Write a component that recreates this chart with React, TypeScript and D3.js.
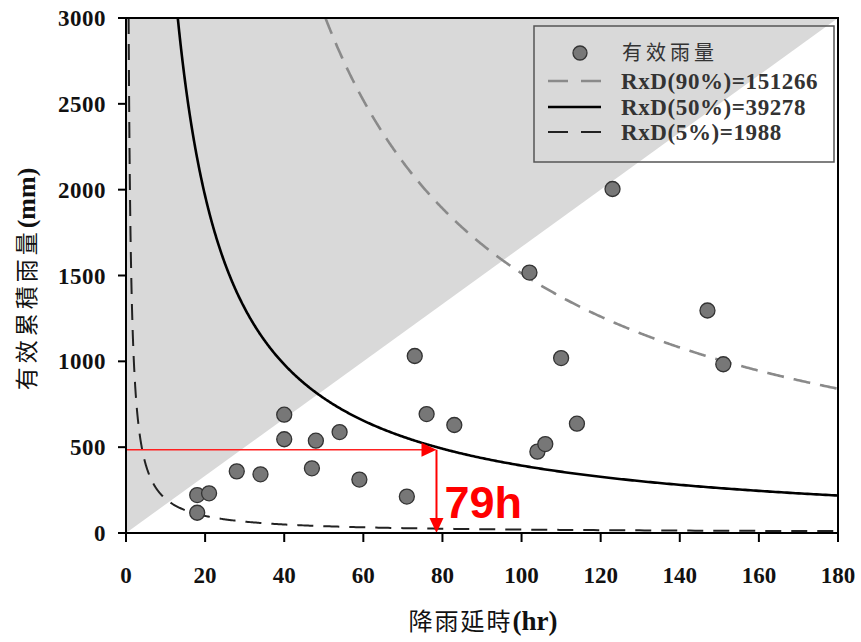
import React from "react";
import * as d3 from "d3";

const W = 861, H = 642;
const M = { left: 126, right: 23, top: 18, bottom: 109 };

// data
const durations = [18, 18, 21, 28, 34, 40, 40, 47, 48, 54, 59, 71, 73, 76, 83, 102, 104, 106, 110, 114, 123, 147, 151];
const rainfall = [118, 221, 231, 359, 342, 689, 546, 377, 538, 588, 311, 212, 1031, 693, 629, 1517, 474, 518, 1019, 637, 2004, 1296, 983];
const curveNames = ["RxD(90%)=151266", "RxD(50%)=39278", "RxD(5%)=1988"];
const curveConstants = [151266, 39278, 1988];
const xTicks = [0, 20, 40, 60, 80, 100, 120, 140, 160, 180];
const yTicks = [0, 500, 1000, 1500, 2000, 2500, 3000];
const annotD = 79;
const annotR = 485;
const annotLabel = "79h";
const legendTitle = "有效雨量";

const curveStyles = [
  { stroke: "#8a8a8a", width: 2.6, dash: "17,10" },
  { stroke: "#000", width: 2.6, dash: "" },
  { stroke: "#222", width: 2, dash: "16,10" },
];

export default function App() {
  const x = d3.scaleLinear().domain([0, 180]).range([M.left, W - M.right]);
  const y = d3.scaleLinear().domain([0, 3000]).range([H - M.bottom, M.top]);
  const x0 = x(0), x1 = x(180), y0 = y(0), y1 = y(3000);

  const curvePath = (c: number) => {
    const dMin = c / 3000;
    const pts: [number, number][] = [];
    const n = 600;
    for (let i = 0; i <= n; i++) {
      const t = i / n;
      const d = dMin * Math.pow(180 / dMin, t);
      pts.push([d, c / d]);
    }
    return d3.line<[number, number]>().x((p) => x(p[0])).y((p) => y(p[1]))(pts) || "";
  };

  const shade = `M${x0},${y0} L${x0},${y1} L${x1},${y1} Z`;
  const ax = x(annotD) - 2, ay = y(annotR);

  const serif = "'Liberation Serif', 'Times New Roman', serif";
  const cjk = "'Noto Sans CJK TC', 'Noto Sans CJK SC', sans-serif";

  const legX = 534, legY = 26, legW = 300, legH = 136;
  const rows = [53, 81, 107, 132];

  return (
    <svg width={W} height={H} style={{ position: "absolute", left: 0, top: 0, background: "#fff" }}>
      <defs>
        <clipPath id="plot">
          <rect x={x0} y={y1} width={x1 - x0} height={y0 - y1} />
        </clipPath>
      </defs>
      <path d={shade} fill="#d9d9d9" />
      <g clipPath="url(#plot)">
        {curveConstants.map((c, i) => (
          <path key={i} d={curvePath(c)} fill="none" stroke={curveStyles[i].stroke}
            strokeWidth={curveStyles[i].width} strokeDasharray={curveStyles[i].dash} />
        ))}
      </g>
      {durations.map((d, i) => (
        <circle key={i} cx={x(d)} cy={y(rainfall[i])} r={7.5} fill="#777" stroke="#333" strokeWidth={1.3} />
      ))}
      {/* annotation */}
      <line x1={x0} y1={ay} x2={ax - 14} y2={ay} stroke="#ff2020" strokeWidth={1.3} />
      <path d={`M${ax},${ay} L${ax - 15},${ay - 7} L${ax - 15},${ay + 7} Z`} fill="#ff0000" />
      <line x1={ax} y1={ay} x2={ax} y2={y0 - 14} stroke="#ff0000" strokeWidth={2} />
      <path d={`M${ax},${y0} L${ax - 7},${y0 - 15} L${ax + 7},${y0 - 15} Z`} fill="#ff0000" />
      <text x={ax + 8} y={518} fill="#ff0000" fontFamily="'Liberation Sans', Arial, sans-serif" fontWeight="bold" fontSize={45}>{annotLabel}</text>

      {/* frame */}
      <rect x={x0} y={y1} width={x1 - x0} height={y0 - y1} fill="none" stroke="#000" strokeWidth={2} />
      {yTicks.map((t) => (
        <g key={t}>
          <line x1={x0 - 8} x2={x0} y1={y(t)} y2={y(t)} stroke="#000" strokeWidth={2} />
          <text x={x0 - 20} y={y(t)} dy="0.35em" textAnchor="end" fontFamily={serif} fontWeight="bold" fontSize={23} letterSpacing={0.5} fill="#111">{t}</text>
        </g>
      ))}
      {xTicks.map((t) => (
        <g key={t}>
          <line x1={x(t)} x2={x(t)} y1={y0} y2={y0 + 9} stroke="#000" strokeWidth={2} />
          <text x={x(t)} y={583} textAnchor="middle" fontFamily={serif} fontWeight="bold" fontSize={23} fill="#111">{t}</text>
        </g>
      ))}
      <text x={483} y={630} textAnchor="middle" fontFamily={cjk} fontSize={24} fill="#111">
        <tspan letterSpacing={2}>降雨延時</tspan><tspan fontFamily={serif} fontWeight="bold" fontSize={27}>(hr)</tspan>
      </text>
      <text transform={`translate(35,279) rotate(-90)`} textAnchor="middle" fontFamily={cjk} fontSize={23} fill="#111">
        <tspan letterSpacing={4}>有效累積雨量</tspan><tspan fontFamily={serif} fontWeight="bold" fontSize={26}>(mm)</tspan>
      </text>

      {/* legend */}
      <rect x={legX} y={legY} width={legW} height={legH} fill="none" stroke="#555" strokeWidth={1.5} />
      <circle cx={580} cy={rows[0]} r={7} fill="#777" stroke="#333" strokeWidth={1.3} />
      <text x={622} y={rows[0]} dy="0.35em" fontFamily={cjk} fontSize={20} letterSpacing={4} fill="#333">{legendTitle}</text>
      {curveNames.map((n, i) => (
        <g key={n}>
          <line x1={548} x2={601} y1={rows[i + 1]} y2={rows[i + 1]} stroke={curveStyles[i].stroke}
            strokeWidth={curveStyles[i].width} strokeDasharray={i === 1 ? "" : "20,13"} />
          <text x={621} y={rows[i + 1]} dy="0.35em" fontFamily={serif} fontWeight="bold" fontSize={23} letterSpacing={0.6} fill="#333">{n}</text>
        </g>
      ))}
    </svg>
  );
}
